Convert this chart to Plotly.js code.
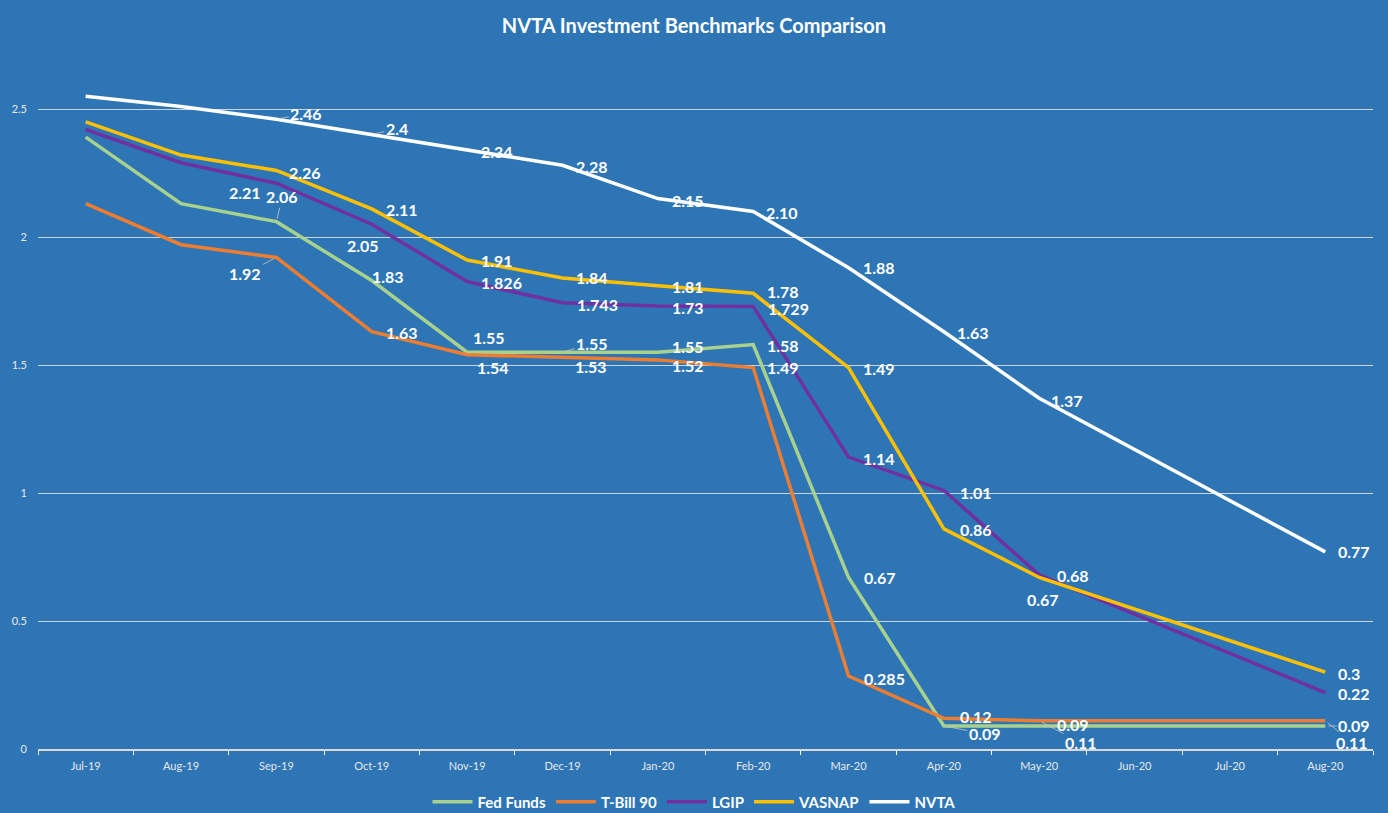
<!DOCTYPE html>
<html>
<head>
<meta charset="utf-8">
<script src="https://cdn.plot.ly/plotly-3.0.1.min.js"></script>
<style>
  html, body { margin: 0; padding: 0; background: #2E75B6; }
  #chart { width: 1388px; height: 813px; }
</style>
</head>
<body>
<div id="chart"></div>
<script>
// ---- Data ----
const months = ['Jul-19','Aug-19','Sep-19','Oct-19','Nov-19','Dec-19','Jan-20','Feb-20','Mar-20','Apr-20','May-20','Jun-20','Jul-20','Aug-20'];
const fedFunds = [2.39, 2.13, 2.06, 1.83, 1.55, 1.55, 1.55, 1.58, 0.67, 0.09, 0.09, null, null, 0.09];
const tBill90  = [2.13, 1.97, 1.92, 1.63, 1.54, 1.53, 1.52, 1.49, 0.285, 0.12, 0.11, null, null, 0.11];
const lgip     = [2.42, 2.29, 2.21, 2.05, 1.826, 1.743, 1.73, 1.729, 1.14, 1.01, 0.68, null, null, 0.22];
const vasnap   = [2.45, 2.32, 2.26, 2.11, 1.91, 1.84, 1.81, 1.78, 1.49, 0.86, 0.67, null, null, 0.3];
const nvta     = [2.55, 2.51, 2.46, 2.4, 2.34, 2.28, 2.15, 2.10, 1.88, 1.63, 1.37, null, null, 0.77];
const seriesNames = ['Fed Funds', 'T-Bill 90', 'LGIP', 'VASNAP', 'NVTA'];
const yTicks = [0, 0.5, 1, 1.5, 2, 2.5];
const yTickText = ['0', '0.5', '1', '1.5', '2', '2.5'];
const labelOverrides = { 'NVTA': { 7: '2.10' } };

// ---- Styling (positions/colors) ----
const colors = ['#A9D18E', '#ED7D31', '#7030A0', '#FFC000', '#FFFFFF'];
const seriesData = [fedFunds, tBill90, lgip, vasnap, nvta];
// label center offsets (px) relative to point, by index; null = no label
const offsets = {
  'Fed Funds': [null,null,[6,-25],[16,-4],[22,-15],[30,-9],[30,-6],[30,1],[31,0],[41,8],[34,-1],null,null,[29,0]],
  'T-Bill 90': [null,null,[-31,16],[30,1],[26,13],[29,9],[30,6],[30,0],[36,2],[32,-2],[42,22],null,null,[27,22]],
  'LGIP':      [null,null,[-31,9],[-9,21],[34,1],[35,2],[30,1],[35,2],[30,1],[32,2],[34,1],null,null,[29,1]],
  'VASNAP':    [null,null,[29,2],[30,1],[30,0],[30,0],[30,1],[30,-2],[30,1],[32,1],[4,22],null,null,[24,1]],
  'NVTA':      [null,null,[30,-6],[25,-6],[30,2],[30,1],[30,2],[29,1],[30,0],[29,1],[28,2],null,null,[29,0]]
};
const leaders = {
  'Fed Funds': [2, 5, 9, 13],
  'T-Bill 90': [2, 10, 13],
  'NVTA': [2, 3]
};

const font = 'Lato, "Open Sans", "Liberation Sans", sans-serif';

const traces = seriesData.map((d, k) => ({
  type: 'scatter',
  mode: 'lines',
  name: seriesNames[k],
  x: months,
  y: d,
  connectgaps: true,
  line: { color: colors[k], width: 3.5 },
  hoverinfo: 'x+y+name'
}));

const annotations = [];
seriesData.forEach((d, k) => {
  const name = seriesNames[k];
  const offs = offsets[name];
  d.forEach((v, i) => {
    if (v === null || !offs[i]) return;
    const ov = labelOverrides[name] && labelOverrides[name][i];
    const hasLeader = (leaders[name] || []).includes(i);
    annotations.push({
      x: months[i], y: v, xref: 'x', yref: 'y',
      text: ov || String(v),
      showarrow: true,
      ax: offs[i][0], ay: offs[i][1],
      arrowhead: 0,
      arrowwidth: 1,
      arrowcolor: hasLeader ? 'rgba(200,200,200,0.8)' : 'rgba(0,0,0,0)',
      standoff: 3,
      startstandoff: 0,
      font: { family: font, size: 16, color: '#FFFFFF', weight: 'bold' }
    });
  });
});

const layout = {
  width: 1388, height: 813,
  paper_bgcolor: '#2E75B6',
  plot_bgcolor: '#2E75B6',
  margin: { l: 38, r: 15, t: 45, b: 64, autoexpand: false },
  title: {
    text: '<b>NVTA Investment Benchmarks Comparison</b>',
    font: { family: font, size: 20, color: '#FFFFFF' },
    x: 0.5, xanchor: 'center', xref: 'container',
    y: 1 - 26 / 813, yanchor: 'middle', yref: 'container'
  },
  xaxis: {
    type: 'category',
    tickson: 'boundaries',
    ticks: 'outside', ticklen: 4, tickcolor: '#FFFFFF', tickwidth: 1,
    showline: true, linecolor: '#D9D9D9', linewidth: 1.5,
    showgrid: false, zeroline: false,
    tickfont: { family: font, size: 11, color: '#E8E8E8' },
    ticklabelstandoff: 6,
    range: [-0.5, 13.5],
    fixedrange: true
  },
  yaxis: {
    range: [0, 2.75],
    tickvals: yTicks, ticktext: yTickText,
    showgrid: true, gridcolor: 'rgba(230,230,230,0.85)', gridwidth: 1,
    zeroline: false, showline: false, ticks: '',
    tickfont: { family: font, size: 11, color: '#E8E8E8' },
    ticklabelstandoff: 10,
    fixedrange: true
  },
  showlegend: true,
  legend: {
    orientation: 'h',
    x: 0.5, xanchor: 'center', xref: 'container',
    y: -0.052, yanchor: 'top',
    font: { family: font, size: 15, color: '#FFFFFF', weight: 'bold' },
    bgcolor: 'rgba(0,0,0,0)',
    itemwidth: 40,
    traceorder: 'normal'
  },
  annotations: annotations
};

Plotly.newPlot('chart', traces, layout, { displayModeBar: false, staticPlot: false });
</script>
</body>
</html>
